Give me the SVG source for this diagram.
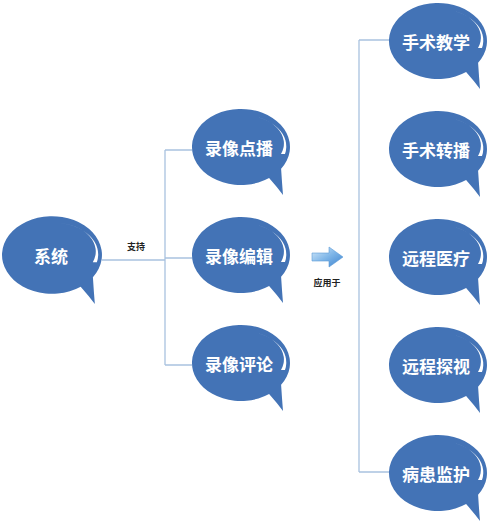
<svg xmlns="http://www.w3.org/2000/svg" width="500" height="527" viewBox="0 0 500 527">
<style>
.bub{fill:#4373b6}
.hl{fill:#ffffff}
.lbl{font-family:"Noto Sans CJK SC","Noto Sans",sans-serif;font-size:17px;font-weight:bold;fill:#ffffff;text-anchor:middle}
.small{font-family:"Noto Sans CJK SC","Noto Sans",sans-serif;font-size:9px;font-weight:bold;fill:#222222;text-anchor:middle}
.conn{stroke:#a9c2df;stroke-width:1.3;fill:none}
</style>
<defs>
<g id="bubble">
<path class="bub" d="M40.1 21.8 A49 38 0 1 0 28.1 31.1 Q36 40 42 48 Q41 36 40.1 21.8 Z"/>
<path class="hl" d="M4 -31.5 A43 31 0 0 1 44 7 L40 7 A40 28 0 0 0 4 -31.5 Z"/>
</g>
<linearGradient id="arr" x1="0" y1="0" x2="1" y2="1">
<stop offset="0" stop-color="#d8ecfb"/>
<stop offset="0.5" stop-color="#7fb6e8"/>
<stop offset="1" stop-color="#3b82cf"/>
</linearGradient>
</defs>
<g id="connectors">
<path class="conn" d="M102 260 H165 M165 150 V365 M165 150 H192 M165 258 H192 M165 365 H192"/>
<path class="conn" d="M359 40 V472 M359 40 H390 M359 472 H390"/>
<text class="small" x="136" y="250">支持</text>
<path d="M312 253 H329 V247 L343 257 L329 267 V261 H312 Z" fill="url(#arr)" stroke="#5d9ad6" stroke-width="0.6"/>
<text class="small" x="327" y="286">应用于</text>
</g>
<g id="node-xitong" transform="translate(52,255)"><use href="#bubble" transform="scale(1.02,1.02)"/><text class="lbl" x="-1" y="8">系统</text></g>
<g id="node-dianbo" transform="translate(241,147)"><use href="#bubble"/><text class="lbl" x="-2" y="8">录像点播</text></g>
<g id="node-bianji" transform="translate(241,255)"><use href="#bubble"/><text class="lbl" x="-2" y="8">录像编辑</text></g>
<g id="node-pinglun" transform="translate(241,363)"><use href="#bubble"/><text class="lbl" x="-2" y="8">录像评论</text></g>
<g id="node-jiaoxue" transform="translate(438,41)"><use href="#bubble"/><text class="lbl" x="-2" y="8">手术教学</text></g>
<g id="node-zhuanbo" transform="translate(438,149)"><use href="#bubble"/><text class="lbl" x="-2" y="8">手术转播</text></g>
<g id="node-yiliao" transform="translate(438,257)"><use href="#bubble"/><text class="lbl" x="-2" y="8">远程医疗</text></g>
<g id="node-tanshi" transform="translate(438,365)"><use href="#bubble"/><text class="lbl" x="-2" y="8">远程探视</text></g>
<g id="node-jianhu" transform="translate(438,473)"><use href="#bubble"/><text class="lbl" x="-2" y="8">病患监护</text></g>
</svg>
